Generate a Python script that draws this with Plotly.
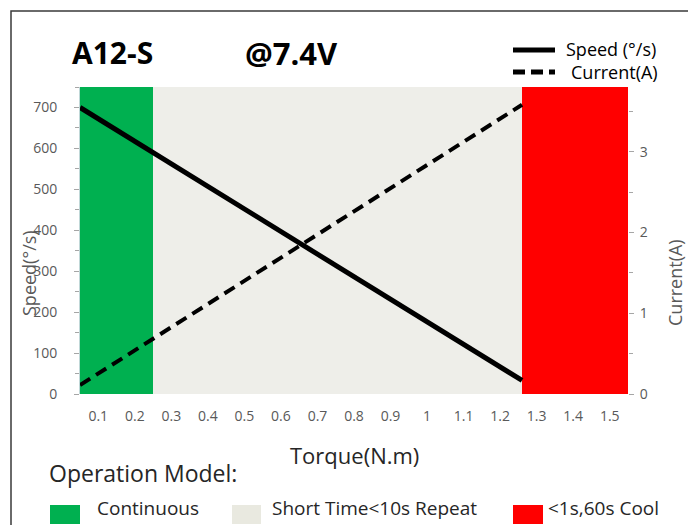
import plotly.graph_objects as go

# ---- data ----
torque_ticks = [0.1, 0.2, 0.3, 0.4, 0.5, 0.6, 0.7, 0.8, 0.9, 1.0, 1.1, 1.2, 1.3, 1.4, 1.5]
tick_labels = ["0.1", "0.2", "0.3", "0.4", "0.5", "0.6", "0.7", "0.8", "0.9", "1",
               "1.1", "1.2", "1.3", "1.4", "1.5"]
line_torque = [0.05, 1.26]
speed = [700, 33]          # deg/s
current = [0.11, 3.58]     # A
zone_names = ["Continuous", "Short Time<10s Repeat", "<1s,60s Cool"]
zone_start = [0.05, 0.25, 1.26]
zone_end = [0.25, 1.26, 1.55]
zone_colors = ["#00B050", "#EEEEE9", "#FF0000"]
speed_max = 750
current_max = 3.8

# page has an 8px body margin; figure sized to fit the 696x525 window
OFF = 8
W, H = 696 - OFF, 525 - OFF
L, R, T, B = 80, 628, 87, 394     # plot area in window pixels
FONT = "Open Sans"


def px(x):
    return (x - L) / (R - L)


def py(y):
    return (B - y) / (B - T)


fig = go.Figure()

fig.add_trace(go.Bar(
    x=[(s + e) / 2 for s, e in zip(zone_start, zone_end)],
    width=[e - s for s, e in zip(zone_start, zone_end)],
    y=[speed_max] * len(zone_names),
    marker=dict(color=zone_colors, line=dict(width=0)),
    name="zones", showlegend=False, hoverinfo="skip"))

fig.add_trace(go.Scatter(x=line_torque, y=speed, mode="lines", name="Speed (°/s)",
                         line=dict(color="black", width=5), showlegend=False))
fig.add_trace(go.Scatter(x=line_torque, y=current, mode="lines", name="Current(A)",
                         yaxis="y2", line=dict(color="black", width=4, dash="12px,7px"),
                         showlegend=False))

grey = "#595959"
fig.update_layout(
    width=W, height=H,
    margin=dict(l=L - OFF, r=696 - R, t=T - OFF, b=525 - B),
    paper_bgcolor="white", plot_bgcolor="white",
    font=dict(family=FONT, color=grey),
    bargap=0,
    xaxis=dict(range=[0.05, 1.55], tickvals=torque_ticks, ticktext=tick_labels,
               showgrid=False, zeroline=False, ticks="", showline=False,
               tickfont=dict(size=14, color=grey), ticklabelstandoff=12),
    yaxis=dict(range=[0, speed_max], dtick=100, showgrid=False, zeroline=False,
               ticks="outside", ticklen=5, tickcolor="#A6A6A6",
               showline=True, linecolor="#BFD7D7", linewidth=1,
               minor=dict(dtick=50, ticks="outside", ticklen=4, tickcolor="#A6A6A6"),
               tickfont=dict(size=14, color=grey), ticklabelstandoff=14),
    yaxis2=dict(range=[0, current_max], dtick=1, overlaying="y", side="right",
                showgrid=False, zeroline=False, ticks="outside", ticklen=5,
                tickcolor="#A6A6A6", showline=False,
                minor=dict(dtick=0.5, ticks="outside", ticklen=4, tickcolor="#A6A6A6"),
                tickfont=dict(size=14, color=grey), ticklabelstandoff=3),
    showlegend=False,
)

ann = []


def text(t, x, y, size, color="black", xanchor="left", bold=False, angle=0):
    ann.append(dict(text=("<b>%s</b>" % t) if bold else t, x=px(x), y=py(y),
                    xref="paper", yref="paper", xanchor=xanchor, yanchor="middle",
                    showarrow=False, textangle=angle,
                    font=dict(family=FONT, size=size, color=color)))


text("A12-S", 70, 53, 30, bold=True)
text("@7.4V", 243, 53, 31, bold=True)
text("Speed (°/s)", 564, 49, 18)
text("Current(A)", 569, 72, 18)
text("Speed(°/s)", 29, 273, 18, color=grey, xanchor="center", angle=-90)
text("Current(A)", 675, 283, 18, color=grey, xanchor="center", angle=-90)
text("Torque(N.m)", 354, 455, 22, color="#262626", xanchor="center")
text("Operation Model:", 47, 473, 23, color="#262626")
text("Continuous", 95, 508, 19, color="#262626")
text("Short Time<10s Repeat", 270, 508, 19, color="#262626")
text("<1s,60s Cool", 546, 508, 19, color="#262626")
fig.update_layout(annotations=ann)

shapes = []


def pshape(kind, x0, y0, x1, y1, **kw):
    d = dict(type=kind, xref="paper", yref="paper",
             x0=px(x0), x1=px(x1), y0=py(y0), y1=py(y1))
    d.update(kw)
    shapes.append(d)


# legend samples
pshape("line", 513, 50, 555, 50, line=dict(color="black", width=5))
pshape("line", 513, 72, 555, 72, line=dict(color="black", width=5, dash="12px,6px"))
# operation model squares
for (x0, x1), c in zip([(50, 80), (232, 261), (513, 543)], zone_colors):
    pshape("rect", x0, 505, x1, 524, fillcolor="#E9E9E0" if c == "#EEEEE9" else c,
           line=dict(width=0))
# outer border
pshape("rect", 11, 11, 691, 560, line=dict(color="#3A3A3A", width=1.5),
       fillcolor="rgba(0,0,0,0)", layer="below")
fig.update_layout(shapes=shapes)

fig.write_html("out.html")
